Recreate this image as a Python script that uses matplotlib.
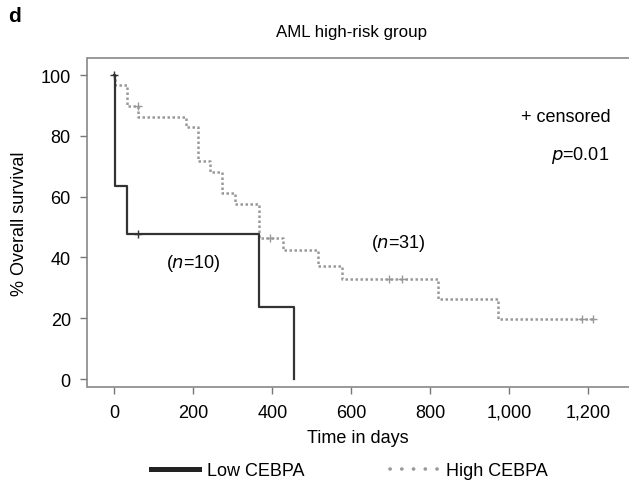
import matplotlib
matplotlib.use("Agg")
import matplotlib.pyplot as plt
from matplotlib.lines import Line2D

plt.rcParams['font.family'] = ['Liberation Sans', 'DejaVu Sans']

# Low CEBPA (n=10)
low_times = [0, 1, 33, 365, 456]
low_surv = [100, 63.6, 47.7, 23.8, 0]
low_end = 456
low_cens_t = [0, 59]
low_cens_s = [100, 47.7]

# High CEBPA (n=31)
high_times = [0, 1, 31, 61, 181, 213, 242, 273, 306, 365, 426, 516, 576, 820, 972]
high_surv = [100, 96.7, 89.7, 86.3, 82.8, 71.8, 68.2, 61.1, 57.6, 46.4, 42.4, 37.3, 33.0, 26.4, 19.8]
high_end = 1212
high_cens_t = [59, 394, 696, 728, 1183, 1212]
high_cens_s = [89.7, 46.4, 33.0, 33.0, 19.8, 19.8]

xticks = [0, 200, 400, 600, 800, 1000, 1200]
xticklabels = ['0', '200', '400', '600', '800', '1,000', '1,200']
yticks = [0, 20, 40, 60, 80, 100]

fig = plt.figure(figsize=(6.29, 4.81), dpi=100)
W, H = 629, 481
ax = fig.add_axes([87.5 / W, 1 - 388 / H, (629 - 87.5) / W, (388 - 59) / H])

low_col = '#333333'
high_col = '#999999'
FS = 13

ax.step(high_times + [high_end], high_surv + [high_surv[-1]], where='post',
        color=high_col, lw=1.8, ls=(0, (1, 1)))
ax.plot(high_cens_t, high_cens_s, ls='none', marker='+', ms=6, mew=1, color=high_col)
ax.step(low_times + [low_end], low_surv + [low_surv[-1]], where='post',
        color=low_col, lw=1.6)
ax.plot(low_cens_t, low_cens_s, ls='none', marker='+', ms=6, mew=1, color=low_col)

ax.set_xlim(-68, 1303)
ax.set_ylim(-2.6, 105.6)
ax.set_xticks(xticks)
ax.set_xticklabels(xticklabels)
ax.set_yticks(yticks)
ax.tick_params(labelsize=FS, color='#777777', length=5, width=1, pad=7)
for s in ['left', 'bottom', 'top']:
    ax.spines[s].set_color('#888888')
    ax.spines[s].set_linewidth(1.2)
ax.spines['right'].set_visible(False)

ax.set_xlabel('Time in days', fontsize=FS, labelpad=6)
ax.set_ylabel('% Overall survival', fontsize=FS, labelpad=9)

ax.text(200, 38.5, '($n$=10)', fontsize=FS, ha='center', va='center')
ax.text(718, 45, '($n$=31)', fontsize=FS, ha='center', va='center')
ax.text(1143, 86.5, '+ censored', fontsize=FS, ha='center', va='center')
ax.text(1252, 74, '$p$=0.01', fontsize=FS, ha='right', va='center')

fig.text(352 / W, 1 - 33 / H, 'AML high-risk group', fontsize=12.2, ha='center', va='center')
fig.text(8 / W, 1 - 17 / H, 'd', fontsize=15, fontweight='bold', ha='left', va='center')

handles = [Line2D([], [], color='#222222', lw=3.6),
           Line2D([], [], color=high_col, lw=2.6, ls=(0, (0.05, 3.2)),
                  dash_capstyle='round')]
leg = fig.legend(handles, ['Low CEBPA', 'High CEBPA'], loc='center left',
                 bbox_to_anchor=(151 / W, 1 - 472 / H), ncol=2, frameon=False,
                 fontsize=FS, handlelength=2.67, handletextpad=0.44,
                 columnspacing=4.7, borderpad=0, borderaxespad=0)

fig.savefig('out.png', dpi=100)
